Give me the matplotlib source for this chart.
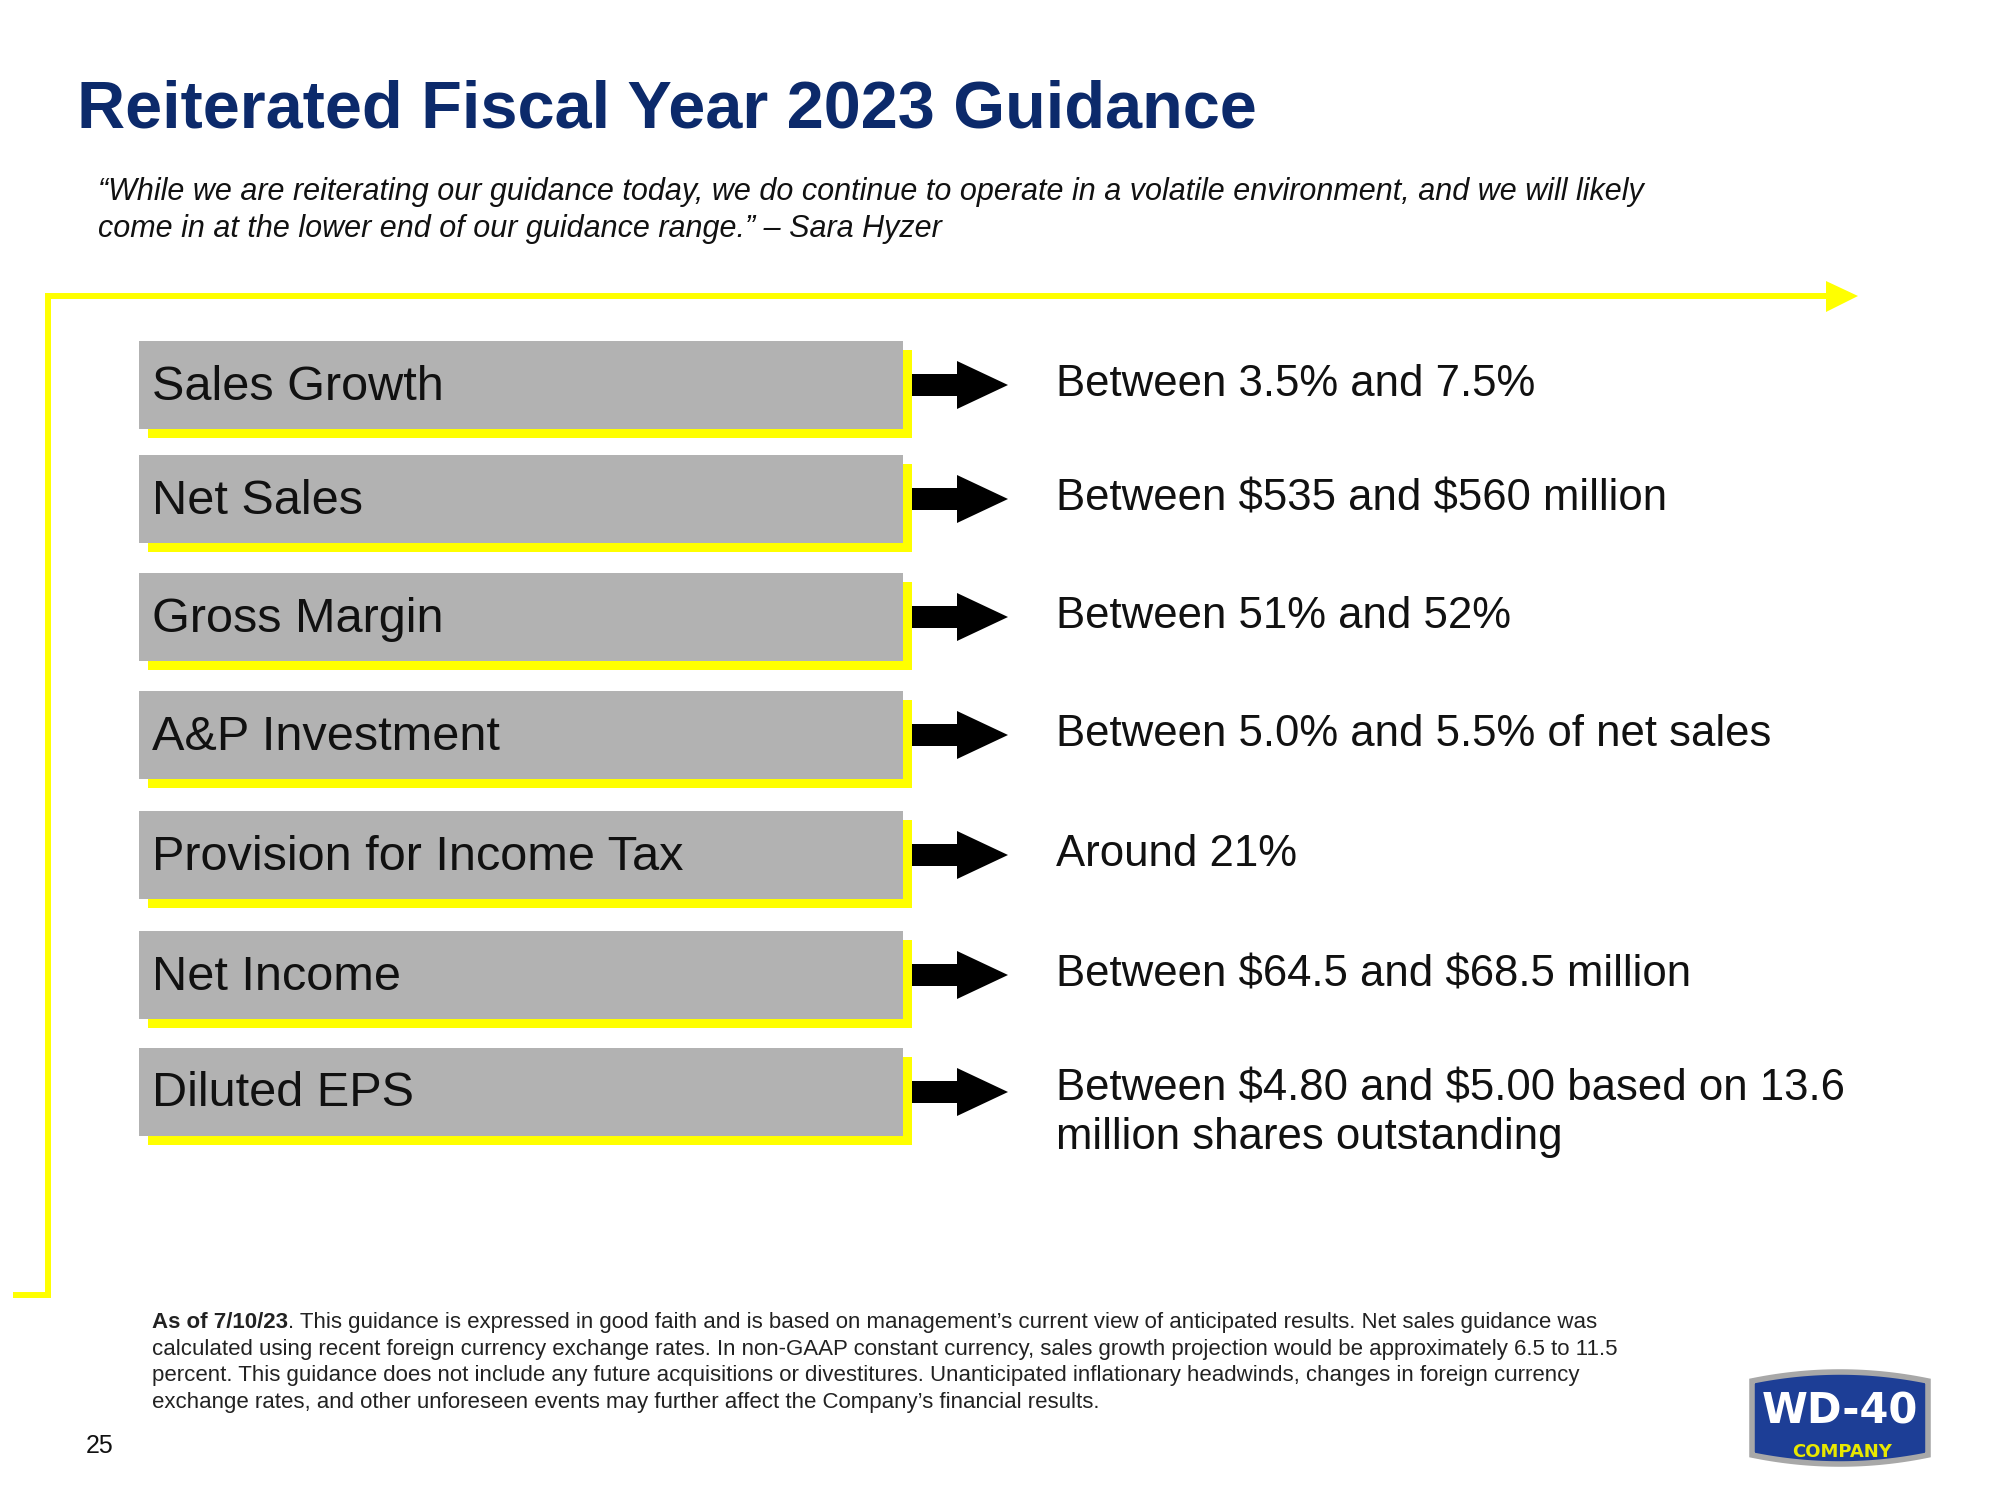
import numpy as np
import matplotlib.pyplot as plt
from matplotlib.patches import Rectangle, Polygon

plt.rcParams['font.family'] = ['Liberation Sans', 'DejaVu Sans']

title = "Reiterated Fiscal Year 2023 Guidance"
quote = ["\u201cWhile we are reiterating our guidance today, we do continue to operate in a volatile environment, and we will likely",
         "come in at the lower end of our guidance range.\u201d \u2013 Sara Hyzer"]

metrics = ["Sales Growth", "Net Sales", "Gross Margin", "A&P Investment",
           "Provision for Income Tax", "Net Income", "Diluted EPS"]
guidance = ["Between 3.5% and 7.5%",
            "Between $535 and $560 million",
            "Between 51% and 52%",
            "Between 5.0% and 5.5% of net sales",
            "Around 21%",
            "Between $64.5 and $68.5 million",
            "Between $4.80 and $5.00 based on 13.6\nmillion shares outstanding"]

note_bold = "As of 7/10/23"
note_lines = [". This guidance is expressed in good faith and is based on management\u2019s current view of anticipated results. Net sales guidance was",
              "calculated using recent foreign currency exchange rates. In non-GAAP constant currency, sales growth projection would be approximately 6.5 to 11.5",
              "percent. This guidance does not include any future acquisitions or divestitures. Unanticipated inflationary headwinds, changes in foreign currency",
              "exchange rates, and other unforeseen events may further affect the Company\u2019s financial results."]
page_no = "25"

NAVY = '#0c2a6b'
YELLOW = '#ffff00'
GREY = '#b2b2b2'

fig = plt.figure(figsize=(20, 15), dpi=100)
ax = fig.add_axes([0, 0, 1, 1])
ax.set_xlim(0, 2000)
ax.set_ylim(1500, 0)
ax.axis('off')

# title + quote
ax.text(77, 110, title, fontsize=48, fontweight='bold', color=NAVY, va='center')
ax.text(98, 192, quote[0], fontsize=22, style='italic', color='#111111', va='center')
ax.text(98, 229, quote[1], fontsize=22, style='italic', color='#111111', va='center')

# yellow frame line with arrow
ax.plot([48, 1828], [296, 296], color=YELLOW, lw=4.3, solid_capstyle='butt')
ax.plot([48, 48], [293, 1297], color=YELLOW, lw=4.3, solid_capstyle='butt')
ax.plot([13, 51], [1295, 1295], color=YELLOW, lw=4.3, solid_capstyle='butt')
ax.add_patch(Polygon([[1826, 281], [1858, 296], [1826, 312]], closed=True, color=YELLOW, lw=0))

# rows
tops = [341, 455, 573, 691, 811, 931, 1048]
h = 88
for top, m, g in zip(tops, metrics, guidance):
    cy = top + h / 2
    ax.add_patch(Rectangle((148, top + 9), 764, h, color=YELLOW, lw=0))
    ax.add_patch(Rectangle((139, top), 764, h, color=GREY, lw=0))
    ax.text(152, cy + 2, m, fontsize=35, color='#111111', va='center')
    arrow = [[912, cy - 11], [957, cy - 11], [957, cy - 24], [1008, cy],
             [957, cy + 24], [957, cy + 11], [912, cy + 11]]
    ax.add_patch(Polygon(arrow, closed=True, color='black', lw=0))
    gy = cy if '\n' not in g else cy + 21
    ax.text(1056, gy, g, fontsize=31.5, color='#111111', va='center',
            linespacing=1.22, parse_math=False)

# footnote
b = ax.text(152, 1333, note_bold, fontsize=16, fontweight='bold', color='#222222', va='bottom')
ax.annotate(note_lines[0], xy=(1, 0), xycoords=b, fontsize=16, color='#222222', va='bottom')
for i, line in enumerate(note_lines[1:]):
    ax.text(152, 1333 + 26.7 * (i + 1), line, fontsize=16, color='#222222', va='bottom')

ax.text(86, 1446, page_no, fontsize=18, color='#111111', va='center')

# logo
t = np.linspace(0, 1, 60)
xs = 1752 + 176 * t
bulge = 1 - (2 * t - 1) ** 2
top_edge = 1381 - 9 * bulge
bot_edge = 1455 + 9 * bulge
outer = np.vstack([np.column_stack([xs, top_edge]), np.column_stack([xs[::-1], bot_edge[::-1]])])
ax.add_patch(Polygon(outer, closed=True, facecolor='#1d3e96', edgecolor='#a8a8a8', lw=4))
ax.text(1840, 1412, "WD-40", fontsize=30, fontweight='bold', color='white',
        ha='center', va='center', family=['DejaVu Sans'])
ax.text(1842, 1452, "COMPANY", fontsize=13, fontweight='bold', color='#e8e800',
        ha='center', va='center', family=['DejaVu Sans'])

fig.savefig('out.png', dpi=100)
